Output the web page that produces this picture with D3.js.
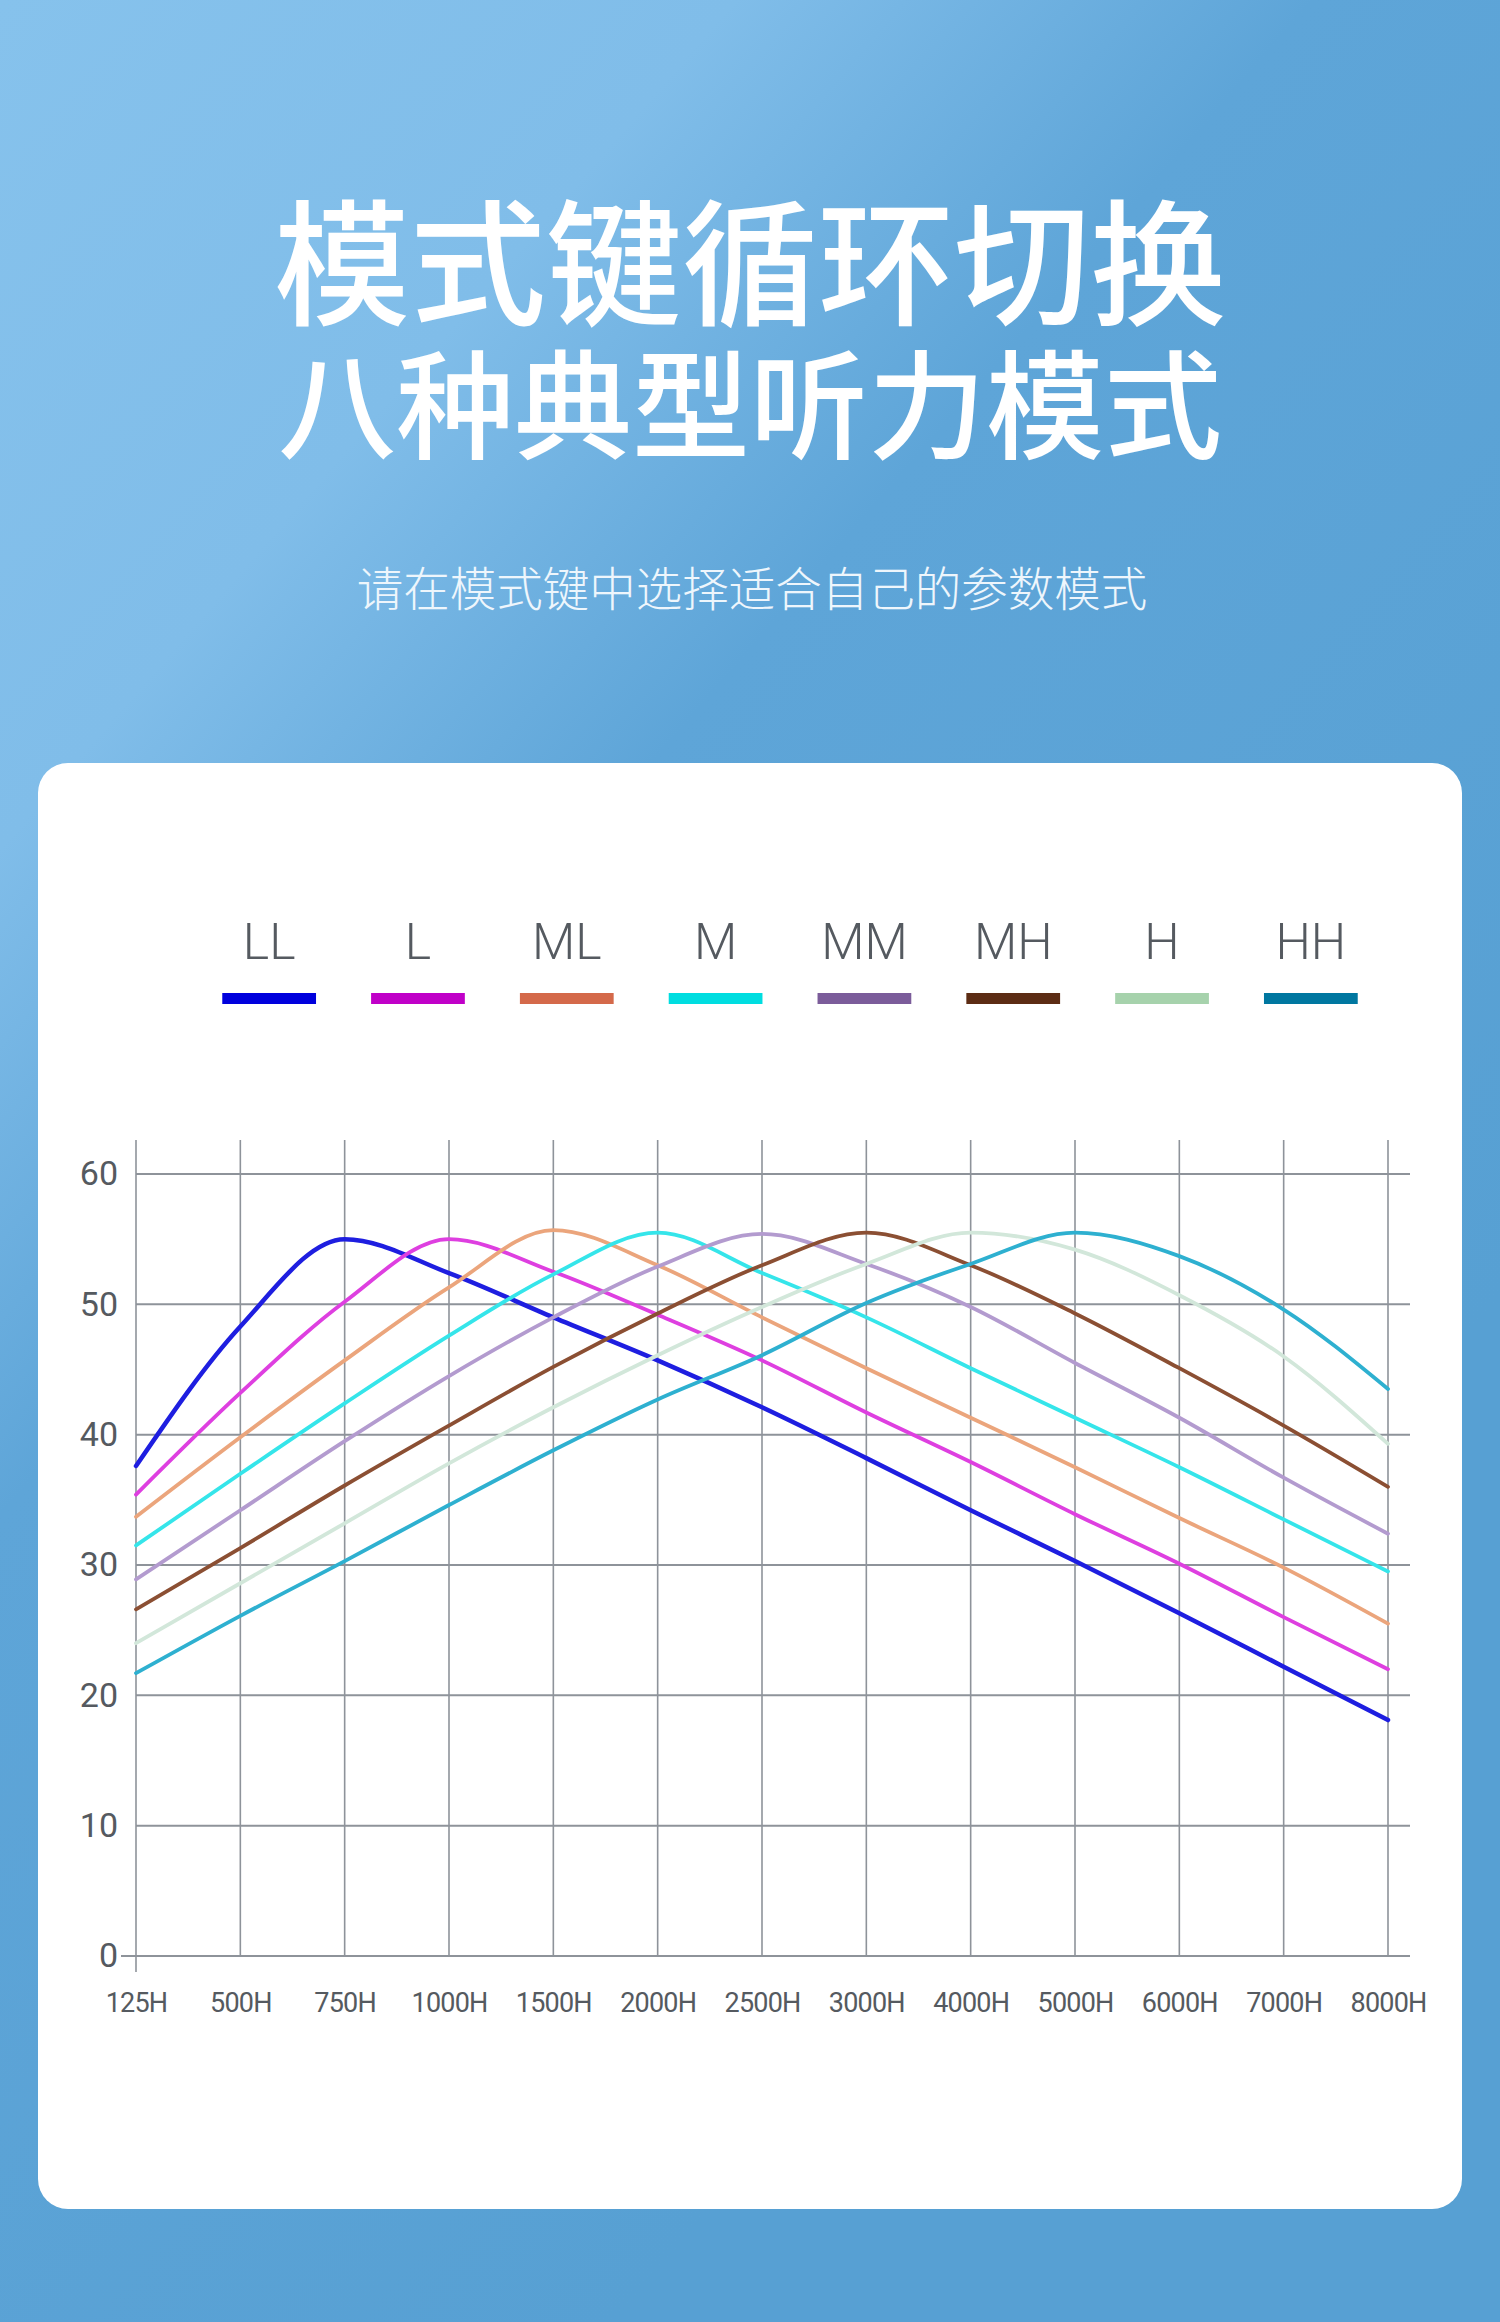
<!DOCTYPE html>
<html>
<head>
<meta charset="utf-8">
<script src="https://cdn.jsdelivr.net/npm/d3@7"></script>
<style>
  body { margin: 0; padding: 0; }
  svg { display: block; }
</style>
</head>
<body>
<div id="chart"></div>
<script>
// page size
let svgWidth = 1500;
let svgHeight = 2322;

// chart data
let freqs = ["125H", "500H", "750H", "1000H", "1500H", "2000H", "2500H", "3000H", "4000H", "5000H", "6000H", "7000H", "8000H"];
let modes = ["LL", "L", "ML", "M", "MM", "MH", "H", "HH"];
let yTicks = [0, 10, 20, 30, 40, 50, 60];

let valuesLL = [37.6, 48.3, 55.0, 52.4, 49.0, 45.7, 42.1, 38.2, 34.2, 30.3, 26.3, 22.2, 18.1];
let valuesL  = [35.4, 43.2, 50.2, 55.0, 52.5, 49.2, 45.7, 41.7, 37.9, 33.9, 30.1, 26.0, 22.0];
let valuesML = [33.7, 39.8, 45.7, 51.3, 55.7, 53.0, 49.0, 45.1, 41.3, 37.5, 33.6, 29.8, 25.5];
let valuesM  = [31.5, 37.0, 42.4, 47.6, 52.3, 55.5, 52.4, 49.0, 45.1, 41.3, 37.5, 33.5, 29.5];
let valuesMM = [28.9, 34.2, 39.5, 44.5, 49.0, 52.9, 55.4, 53.1, 49.8, 45.5, 41.3, 36.7, 32.4];
let valuesMH = [26.6, 31.3, 36.1, 40.7, 45.2, 49.3, 53.0, 55.5, 53.0, 49.3, 45.1, 40.7, 36.0];
let valuesH  = [24.0, 28.6, 33.2, 37.8, 42.1, 46.1, 49.8, 53.1, 55.5, 54.2, 50.7, 46.0, 39.3];
let valuesHH = [21.7, 26.1, 30.3, 34.6, 38.8, 42.7, 46.1, 50.1, 53.1, 55.5, 53.7, 49.6, 43.5];

let seriesValues = [valuesLL, valuesL, valuesML, valuesM, valuesMM, valuesMH, valuesH, valuesHH];

// swatch colours in the legend and the (lighter) line colours
let legendColors = ["#0000dd", "#c000c8", "#d4694a", "#00dde0", "#7b5c9a", "#5c2c14", "#a6d2ac", "#0077a0"];
let lineColors = ["#1e1ee0", "#de3fe0", "#eba57c", "#35e5ea", "#b39bcf", "#8b4f33", "#d2e7da", "#2eb0d0"];

let svg = d3.select("#chart")
  .append("svg")
  .attr("width", svgWidth)
  .attr("height", svgHeight);

// background gradient
let defs = svg.append("defs");
let bg = defs.append("linearGradient")
  .attr("id", "bg")
  .attr("gradientUnits", "userSpaceOnUse")
  .attr("x1", 0).attr("y1", 0)
  .attr("x2", 1500).attr("y2", 1300);
bg.append("stop").attr("offset", 0).attr("stop-color", "#86c2ec");
bg.append("stop").attr("offset", 0.28).attr("stop-color", "#80bde9");
bg.append("stop").attr("offset", 0.5).attr("stop-color", "#5ea5d8");
bg.append("stop").attr("offset", 1).attr("stop-color", "#57a0d3");

svg.append("rect")
  .attr("width", svgWidth)
  .attr("height", svgHeight)
  .attr("fill", "url(#bg)");

// titles
let cjk = "'Noto Sans CJK SC', 'Noto Sans', sans-serif";
svg.append("text")
  .attr("x", 750).attr("y", 255)
  .attr("text-anchor", "middle")
  .attr("dominant-baseline", "central")
  .attr("font-family", cjk)
  .attr("font-weight", 500)
  .attr("font-size", 136)
  .attr("fill", "#ffffff")
  .text("模式键循环切换");

svg.append("text")
  .attr("x", 750).attr("y", 398)
  .attr("text-anchor", "middle")
  .attr("dominant-baseline", "central")
  .attr("font-family", cjk)
  .attr("font-weight", 500)
  .attr("font-size", 118)
  .attr("fill", "#ffffff")
  .text("八种典型听力模式");

svg.append("text")
  .attr("x", 752).attr("y", 585)
  .attr("text-anchor", "middle")
  .attr("dominant-baseline", "central")
  .attr("font-family", cjk)
  .attr("font-weight", 300)
  .attr("font-size", 46.5)
  .attr("fill", "#eef6fc")
  .text("请在模式键中选择适合自己的参数模式");

// white card
svg.append("rect")
  .attr("x", 38).attr("y", 763)
  .attr("width", 1424).attr("height", 1446)
  .attr("rx", 30)
  .attr("fill", "#ffffff");

let latin = "'Roboto', sans-serif";
let textColor = "#555a60";

// legend
let legendX = d3.scaleBand()
  .domain(modes)
  .range([194, 1386])
  .paddingInner(0.37)
  .paddingOuter(0.19);

let legend = svg.append("g");
legend.selectAll("text")
  .data(modes)
  .join("text")
  .attr("x", d => legendX(d) + legendX.bandwidth() / 2)
  .attr("y", 959)
  .attr("text-anchor", "middle")
  .attr("font-family", latin)
  .attr("font-weight", 300)
  .attr("font-size", 50)
  .attr("fill", textColor)
  .text(d => d);

legend.selectAll("rect")
  .data(modes)
  .join("rect")
  .attr("x", d => legendX(d))
  .attr("y", 993)
  .attr("width", legendX.bandwidth())
  .attr("height", 11)
  .attr("fill", (d, i) => legendColors[i]);

// scales
let xScale = d3.scalePoint()
  .domain(freqs)
  .range([136, 1388]);

let yScale = d3.scaleLinear()
  .domain([0, 60])
  .range([1956, 1174]);

let gridColor = "#8e939a";
let grid = svg.append("g");

// vertical grid lines
grid.selectAll("line.v")
  .data(freqs)
  .join("line")
  .attr("class", "v")
  .attr("x1", d => xScale(d)).attr("x2", d => xScale(d))
  .attr("y1", 1140)
  .attr("y2", (d, i) => i === 0 ? 1972 : yScale(0))
  .attr("stroke", gridColor)
  .attr("stroke-width", 1.6);

// horizontal grid lines
grid.selectAll("line.h")
  .data(yTicks)
  .join("line")
  .attr("class", "h")
  .attr("x1", d => d === 0 ? 121 : xScale(freqs[0]))
  .attr("x2", 1410)
  .attr("y1", d => yScale(d)).attr("y2", d => yScale(d))
  .attr("stroke", gridColor)
  .attr("stroke-width", 2);

// axes (labels only, the grid is drawn above)
let leftAxis = d3.axisLeft(yScale).tickValues(yTicks).tickSize(0).tickPadding(18);
let bottomAxis = d3.axisBottom(xScale).tickSize(0).tickPadding(37);

let yAxis = svg.append("g")
  .attr("transform", `translate(${xScale(freqs[0])}, 0)`)
  .call(leftAxis);

let xAxis = svg.append("g")
  .attr("transform", `translate(0, ${yScale(0)})`)
  .call(bottomAxis);

[yAxis, xAxis].forEach(ax => {
  ax.select(".domain").remove();
  ax.selectAll("text")
    .attr("font-family", latin)
    .attr("fill", textColor);
});
yAxis.selectAll("text").attr("font-size", 34);
xAxis.selectAll("text")
  .attr("font-size", 27)
  .attr("letter-spacing", -0.8);

// the eight curves
let line = d3.line()
  .x((d, i) => xScale(freqs[i]))
  .y(d => yScale(d))
  .curve(d3.curveMonotoneX);

svg.append("g")
  .selectAll("path")
  .data(seriesValues)
  .join("path")
  .attr("d", d => line(d))
  .attr("fill", "none")
  .attr("stroke", (d, i) => lineColors[i])
  .attr("stroke-width", (d, i) => i === 0 ? 4.5 : 3.8)
  .attr("stroke-linejoin", "round")
  .attr("stroke-linecap", "round");
</script>
</body>
</html>
